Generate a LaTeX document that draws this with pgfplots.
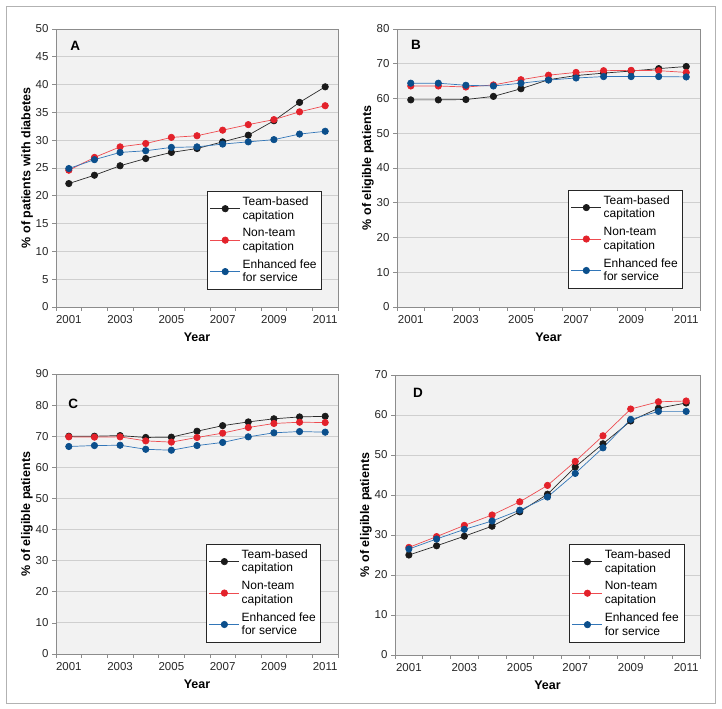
\documentclass[border=0pt]{standalone}
\usepackage{fontspec}
\setmainfont{Liberation Sans}
\usepackage{pgfplots}
\pgfplotsset{compat=1.18}
\definecolor{tbm}{HTML}{1A1A1A}
\definecolor{tbl}{HTML}{2A2A2A}
\definecolor{ntm}{HTML}{E3222B}
\definecolor{ntl}{HTML}{EE4B50}
\definecolor{efm}{HTML}{0B4F8C}
\definecolor{efl}{HTML}{3276B8}
\definecolor{bgc}{HTML}{F2F2F2}
\definecolor{gridc}{HTML}{CFCFCF}
\definecolor{axgray}{HTML}{8C8C8C}
\pgfplotsset{
  panel/.style={
    scale only axis,
    axis background/.style={fill=bgc},
    xmin=0.5, xmax=11.5,
    xtick={0.5,1.5,...,11.5},
    xticklabels={},
    extra x ticks={1,3,5,7,9,11},
    extra x tick labels={2001,2003,2005,2007,2009,2011},
    extra x tick style={major tick length=0pt, grid=none},
    tick align=outside,
    tick pos=left,
    major tick length=4bp,
    every tick/.style={axgray, line width=0.6bp},
    axis line style={axgray, line width=0.8bp},
    ymajorgrids,
    major grid style={gridc, line width=0.8bp},
    ymin=0,
    tick label style={font=\fontsize{11.5bp}{13bp}\selectfont, color=black!85},
    xticklabel style={yshift=-5bp},
    /pgf/number format/assume math mode=true,
    label style={font=\bfseries\fontsize{12.5bp}{14bp}\selectfont},
    xlabel={Year},
    xlabel style={yshift=2bp},
    ylabel style={yshift=-4bp},
    legend cell align=left,
    legend image code/.code={\draw[mark repeat=2,mark phase=2,##1] plot coordinates {(0bp,0bp) (15bp,0bp) (30bp,0bp)};},
    legend style={draw=black!85, line width=0.6bp, fill=white,
      font=\fontsize{12bp}{13.5bp}\selectfont, cells={align=left},
      inner xsep=3bp, inner ysep=3.5bp, row sep=4bp},
  },
  tb/.style={color=tbl, line width=0.7bp, mark=*, mark size=3.2bp, mark options={fill=tbm, draw=tbm}},
  nt/.style={color=ntl, line width=0.7bp, mark=*, mark size=3.2bp, mark options={fill=ntm, draw=ntm}},
  ef/.style={color=efl, line width=0.7bp, mark=*, mark size=3.2bp, mark options={fill=efm, draw=efm}},
}
\newcommand{\legentries}{\legend{{Team-based\\capitation},{Non-team\\capitation},{Enhanced fee\\for service}}}
\newcommand{\panellabel}[3]{\node[anchor=north west, inner sep=0pt, font=\bfseries\fontsize{13.5bp}{13.5bp}\selectfont] at (axis description cs:#1,#2) {#3};}
\begin{document}
\begin{tikzpicture}[x=1bp,y=1bp]
\useasboundingbox (0,0) rectangle (722,709);
\draw[gray!60, line width=0.8bp] (6,6) rectangle (715,703);

% Panel A
\begin{axis}[panel, at={(56bp,402bp)}, anchor=south west, width=282bp, height=278bp,
  ymax=50, ytick={0,5,...,50}, ylabel={\% of patients with diabetes},
  legend style={at={(axis description cs:0.943,0.417)}, anchor=north east}]
\addplot[tb] coordinates {(1,22.2)(2,23.7)(3,25.4)(4,26.7)(5,27.8)(6,28.5)(7,29.7)(8,30.9)(9,33.5)(10,36.8)(11,39.6)};
\addplot[nt] coordinates {(1,24.6)(2,26.9)(3,28.8)(4,29.4)(5,30.5)(6,30.8)(7,31.8)(8,32.8)(9,33.7)(10,35.1)(11,36.2)};
\addplot[ef] coordinates {(1,24.9)(2,26.5)(3,27.8)(4,28.1)(5,28.7)(6,28.8)(7,29.3)(8,29.7)(9,30.1)(10,31.1)(11,31.6)};
\legentries
\panellabel{0.05}{0.955}{A}
\end{axis}

% Panel B
\begin{axis}[panel, at={(397bp,402bp)}, anchor=south west, width=303bp, height=278bp,
  ymax=80, ytick={0,10,...,80}, ylabel={\% of eligible patients},
  legend style={at={(axis description cs:0.944,0.421)}, anchor=north east}]
\addplot[tb] coordinates {(1,59.6)(2,59.6)(3,59.7)(4,60.6)(5,62.8)(6,65.4)(7,66.6)(8,67.3)(9,67.9)(10,68.6)(11,69.2)};
\addplot[nt] coordinates {(1,63.6)(2,63.6)(3,63.3)(4,63.9)(5,65.4)(6,66.7)(7,67.5)(8,68.0)(9,68.1)(10,68.0)(11,67.5)};
\addplot[ef] coordinates {(1,64.4)(2,64.4)(3,63.8)(4,63.6)(5,64.4)(6,65.3)(7,65.9)(8,66.3)(9,66.3)(10,66.3)(11,66.2)};
\legentries
\panellabel{0.046}{0.96}{B}
\end{axis}

% Panel C
\begin{axis}[panel, at={(56bp,55bp)}, anchor=south west, width=282bp, height=280bp,
  ymax=90, ytick={0,10,...,90}, ylabel={\% of eligible patients},
  legend style={at={(axis description cs:0.940,0.393)}, anchor=north east}]
\addplot[tb] coordinates {(1,70.0)(2,70.0)(3,70.2)(4,69.6)(5,69.7)(6,71.6)(7,73.4)(8,74.6)(9,75.6)(10,76.2)(11,76.4)};
\addplot[nt] coordinates {(1,69.8)(2,69.7)(3,69.8)(4,68.5)(5,68.1)(6,69.6)(7,71.0)(8,72.8)(9,74.1)(10,74.5)(11,74.4)};
\addplot[ef] coordinates {(1,66.7)(2,67.0)(3,67.1)(4,65.8)(5,65.5)(6,67.0)(7,68.0)(8,69.8)(9,71.1)(10,71.5)(11,71.3)};
\legentries
\panellabel{0.043}{0.91}{C}
\end{axis}

% Panel D
\begin{axis}[panel, at={(395bp,54bp)}, anchor=south west, width=305bp, height=280bp,
  ymax=70, ytick={0,10,...,70}, ylabel={\% of eligible patients},
  legend style={at={(axis description cs:0.948,0.396)}, anchor=north east}]
\addplot[tb] coordinates {(1,25.0)(2,27.3)(3,29.7)(4,32.2)(5,35.8)(6,40.2)(7,47.0)(8,52.8)(9,58.5)(10,61.7)(11,63.0)};
\addplot[nt] coordinates {(1,26.9)(2,29.6)(3,32.4)(4,35.0)(5,38.3)(6,42.4)(7,48.4)(8,54.8)(9,61.5)(10,63.3)(11,63.5)};
\addplot[ef] coordinates {(1,26.5)(2,29.0)(3,31.4)(4,33.5)(5,36.2)(6,39.5)(7,45.4)(8,51.8)(9,58.9)(10,60.9)(11,60.9)};
\legentries
\panellabel{0.059}{0.955}{D}
\end{axis}
\end{tikzpicture}
\end{document}
